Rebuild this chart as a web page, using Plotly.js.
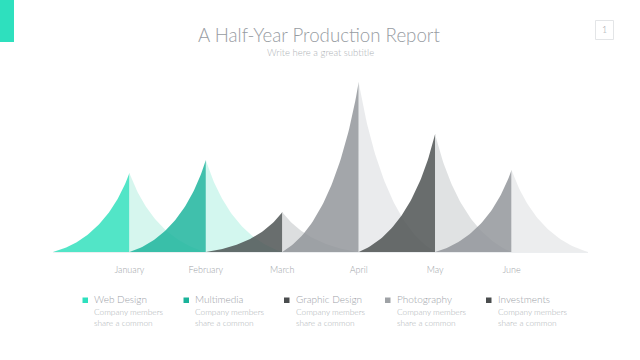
<!DOCTYPE html>
<html>
<head>
<meta charset="utf-8">
<script src="https://cdn.plot.ly/plotly-3.0.1.min.js"></script>
<style>html,body{margin:0;padding:0;background:#fff;}#chart{width:640px;height:360px;}</style>
</head>
<body>
<div id="chart"></div>
<script>
// ---- data ----
var months = ["January", "February", "March", "April", "May", "June"];
var values = [79, 92, 40, 170, 118, 82];
var legendNames = ["Web Design", "Multimedia", "Graphic Design", "Photography", "Investments"];
var legendDesc = ["Company members<br>share a common", "Company members<br>share a common", "Company members<br>share a common", "Company members<br>share a common", "Company members<br>share a common"];
var chartTitle = "A Half-Year Production Report";
var chartSubtitle = "Write here a great subtitle";
var pageNumber = "1";

// ---- styles ----
var leftColors = ["rgba(47,224,188,0.83)", "rgba(25,179,155,0.83)", "rgba(75,80,80,0.83)", "rgba(144,148,153,0.83)", "rgba(74,79,79,0.83)", "rgba(144,148,153,0.83)"];
var rightColors = ["rgba(206,244,235,0.83)", "rgba(202,245,236,0.83)", "rgba(213,215,216,0.83)", "rgba(230,231,233,0.83)", "rgba(218,220,221,0.83)", "rgba(232,233,234,0.83)"];
var legendColors = ["#2ee0be", "#1ab39a", "#4a4d4e", "#9fa2a6", "#4a4d4e"];

var W = 640, H = 360;
var M = {l: 53, r: 52, t: 52, b: 108};
var PW = W - M.l - M.r, PH = H - M.t - M.b;
function px(x) { return (x - M.l) / PW; }
function py(y) { return (H - M.b - y) / PH; }

// concave sail curve: cubic bezier in (distance fraction, height fraction)
var P = [[0, 1], [0.18, 0.52], [0.5, 0.13], [1, 0]];
function bez(t) {
  var a = Math.pow(1 - t, 3), b = 3 * Math.pow(1 - t, 2) * t, c = 3 * (1 - t) * t * t, d = t * t * t;
  return [a * P[0][0] + b * P[1][0] + c * P[2][0] + d * P[3][0],
          a * P[0][1] + b * P[1][1] + c * P[2][1] + d * P[3][1]];
}
var N = 50;
var traces = [];
months.forEach(function (m, i) {
  var v = values[i];
  var lx = [], ly = [];
  for (var k = N; k >= 0; k--) { var p = bez(k / N); lx.push(i - p[0]); ly.push(v * p[1]); }
  lx.push(i); ly.push(0);
  traces.push({x: lx, y: ly, type: "scatter", mode: "lines", fill: "toself", fillcolor: leftColors[i],
    line: {width: 0, color: "rgba(0,0,0,0)"}, hoverinfo: "skip", showlegend: false});
  var rx = [i], ry = [0];
  for (var k2 = 0; k2 <= N; k2++) { var q = bez(k2 / N); rx.push(i + q[0]); ry.push(v * q[1]); }
  traces.push({x: rx, y: ry, type: "scatter", mode: "lines", fill: "toself", fillcolor: rightColors[i],
    line: {width: 0, color: "rgba(0,0,0,0)"}, hoverinfo: "skip", showlegend: false});
});

var font = "'Lato Light', 'Lato Hairline', Lato, sans-serif";
var annotations = [
  {text: chartTitle, xref: "paper", yref: "paper", x: px(319), y: py(34.5), xanchor: "center", yanchor: "middle",
   showarrow: false, font: {family: font, size: 18.7, color: "#979ca2", weight: 300}},
  {text: chartSubtitle, xref: "paper", yref: "paper", x: px(320), y: py(52.5), xanchor: "center", yanchor: "middle",
   showarrow: false, font: {family: font, size: 9.5, color: "#aeb2b6", weight: 300}},
  {text: pageNumber, xref: "paper", yref: "paper", x: px(604.5), y: py(30), xanchor: "center", yanchor: "middle",
   showarrow: false, font: {family: font, size: 9, color: "#9ea3a8", weight: 300}}
];
var shapes = [
  {type: "rect", xref: "paper", yref: "paper", x0: px(0), x1: px(14), y0: py(0), y1: py(42), fillcolor: "#2ee0be", line: {width: 0}},
  {type: "rect", xref: "paper", yref: "paper", x0: px(595.5), x1: px(613.5), y0: py(20.5), y1: py(39.5), fillcolor: "rgba(0,0,0,0)", line: {width: 1, color: "#e3e5e7"}}
];
var colX = [82.5, 183.5, 284, 385, 486];
legendNames.forEach(function (name, j) {
  var x0 = colX[j];
  shapes.push({type: "rect", xref: "paper", yref: "paper", x0: px(x0), x1: px(x0 + 5.5), y0: py(297.5), y1: py(303),
    fillcolor: legendColors[j], line: {width: 0}});
  annotations.push({text: name, xref: "paper", yref: "paper", x: px(x0 + 9.5), y: py(299), xanchor: "left", yanchor: "middle",
    showarrow: false, font: {family: font, size: 10, color: "#9ca1a7", weight: 300}});
  annotations.push({text: legendDesc[j], xref: "paper", yref: "paper", x: px(x0 + 9.5), y: py(305), xanchor: "left", yanchor: "top",
    align: "left", showarrow: false, font: {family: font, size: 8.3, color: "#aaafb3", weight: 300}});
});

var layout = {
  width: W, height: H, margin: M, paper_bgcolor: "#fff", plot_bgcolor: "#fff", showlegend: false,
  xaxis: {range: [-1, 6], tickvals: [0, 1, 2, 3, 4, 5], ticktext: months, showgrid: false, zeroline: false,
    showline: true, linecolor: "#eceef0", linewidth: 1, ticks: "outside", ticklen: 9, tickcolor: "rgba(0,0,0,0)",
    tickfont: {family: font, size: 9, color: "#9ea3a8", weight: 300}, fixedrange: true},
  yaxis: {range: [0, 200], visible: false, fixedrange: true},
  annotations: annotations, shapes: shapes
};
Plotly.newPlot("chart", traces, layout, {displayModeBar: false, staticPlot: true});
</script>
</body>
</html>
